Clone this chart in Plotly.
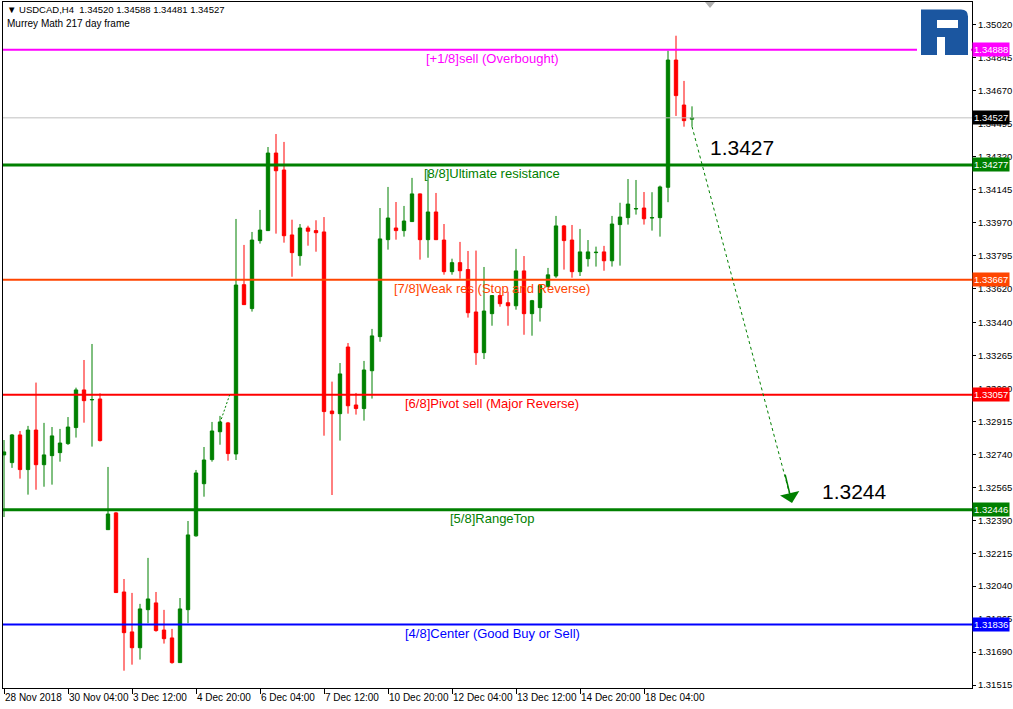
import plotly.graph_objects as go

# USDCAD H4 candles (bar index 0 = 28 Nov 2018 20:00)
opens = [
    1.32737, 1.32696, 1.32843, 1.32659, 1.32869, 1.32685, 1.32733, 1.32749, 1.32797, 1.32882,
    1.33082, 1.33029, 1.33034, 1.32340, 1.32429, 1.32009, 1.31797, 1.31713, 1.31915, 1.31951,
    1.31807, 1.31765, 1.31634, 1.31915, 1.32307, 1.32584, 1.32712, 1.32860, 1.32907, 1.32742,
    1.33641, 1.33514, 1.33875, 1.33928, 1.34340, 1.34250, 1.33905, 1.33795, 1.33942, 1.33928,
    1.33921, 1.32970, 1.32956, 1.33310, 1.33002, 1.32983, 1.33184, 1.33365, 1.33880, 1.33942,
    1.33928, 1.33976, 1.34123, 1.33880, 1.34027, 1.33878, 1.33710, 1.33758, 1.33721, 1.33496,
    1.33280, 1.33487, 1.33583, 1.33545, 1.33529, 1.33714, 1.33487, 1.33519, 1.33630, 1.33687,
    1.33953, 1.33878, 1.33710, 1.33779, 1.33811, 1.33815, 1.33768, 1.33960, 1.33997, 1.34043,
    1.34048, 1.33995, 1.33997, 1.34158, 1.34834, 1.34595, 1.34520,
]
highs = [
    1.32816, 1.32848, 1.32864, 1.32891, 1.33121, 1.32907, 1.32885, 1.32875, 1.32938, 1.33094,
    1.33241, 1.33326, 1.33064, 1.32673, 1.32434, 1.32078, 1.32004, 1.31946, 1.32190, 1.32009,
    1.31914, 1.31813, 1.31977, 1.32386, 1.32657, 1.32779, 1.32912, 1.32944, 1.32912, 1.33990,
    1.33852, 1.33921, 1.34038, 1.34372, 1.34441, 1.34399, 1.33986, 1.33963, 1.33954, 1.33983,
    1.34000, 1.33126, 1.33225, 1.33331, 1.33066, 1.33236, 1.33406, 1.34048, 1.34160, 1.34080,
    1.34059, 1.34208, 1.34125, 1.34250, 1.34128, 1.33963, 1.33779, 1.33868, 1.33820, 1.33822,
    1.33735, 1.33586, 1.33604, 1.33604, 1.33831, 1.33793, 1.33560, 1.33639, 1.33730, 1.34006,
    1.33958, 1.33958, 1.33937, 1.33878, 1.33843, 1.33847, 1.34006, 1.34076, 1.34202, 1.34197,
    1.34133, 1.34132, 1.34167, 1.34884, 1.34963, 1.34723, 1.34588,
]
lows = [
    1.32407, 1.32668, 1.32611, 1.32526, 1.32552, 1.32568, 1.32579, 1.32701, 1.32790, 1.32829,
    1.32908, 1.32781, 1.32808, 1.32338, 1.32004, 1.31591, 1.31623, 1.31650, 1.31843, 1.31798,
    1.31735, 1.31628, 1.31632, 1.31843, 1.32303, 1.32515, 1.32701, 1.32791, 1.32706, 1.32710,
    1.33533, 1.33498, 1.33859, 1.33926, 1.33912, 1.33864, 1.33683, 1.33742, 1.33848, 1.33816,
    1.32839, 1.32524, 1.32813, 1.32956, 1.32951, 1.32919, 1.33036, 1.33338, 1.33827, 1.33880,
    1.33896, 1.33974, 1.33774, 1.33784, 1.33878, 1.33694, 1.33694, 1.33673, 1.33466, 1.33215,
    1.33246, 1.33423, 1.33524, 1.33423, 1.33508, 1.33375, 1.33370, 1.33445, 1.33629, 1.33677,
    1.33721, 1.33678, 1.33687, 1.33737, 1.33737, 1.33715, 1.33737, 1.33742, 1.33960, 1.34013,
    1.33960, 1.33928, 1.33896, 1.34079, 1.34537, 1.34480, 1.34481,
]
closes = [
    1.32753, 1.32843, 1.32659, 1.32869, 1.32685, 1.32737, 1.32838, 1.32800, 1.32885, 1.33082,
    1.33025, 1.33031, 1.32813, 1.32423, 1.32006, 1.31793, 1.31713, 1.31919, 1.31972, 1.31804,
    1.31761, 1.31634, 1.31919, 1.32312, 1.32641, 1.32710, 1.32864, 1.32912, 1.32744, 1.33639,
    1.33535, 1.33878, 1.33931, 1.34340, 1.34246, 1.33901, 1.33811, 1.33942, 1.33925, 1.33917,
    1.32967, 1.32956, 1.33167, 1.32998, 1.32983, 1.33188, 1.33369, 1.33884, 1.33995, 1.33928,
    1.33979, 1.34123, 1.33880, 1.34027, 1.33880, 1.33710, 1.33758, 1.33715, 1.33492, 1.33280,
    1.33501, 1.33583, 1.33540, 1.33529, 1.33714, 1.33487, 1.33556, 1.33636, 1.33693, 1.33953,
    1.33875, 1.33710, 1.33815, 1.33815, 1.33813, 1.33768, 1.33963, 1.34000, 1.34069, 1.34045,
    1.33991, 1.33997, 1.34160, 1.34834, 1.34645, 1.34512, 1.34527,
]
bars = list(range(len(closes)))

time_ticks = [0, 8, 16, 24, 32, 40, 48, 56, 64, 72, 80]
time_labels = ["28 Nov 2018", "30 Nov 04:00", "3 Dec 12:00", "4 Dec 20:00", "6 Dec 04:00",
               "7 Dec 12:00", "10 Dec 20:00", "12 Dec 04:00", "13 Dec 12:00", "14 Dec 20:00",
               "18 Dec 04:00"]

price_ticks = [1.35020, 1.34845, 1.34670, 1.34495, 1.34320, 1.34145, 1.33970, 1.33795, 1.33620,
               1.33440, 1.33265, 1.33090, 1.32915, 1.32740, 1.32565, 1.32390, 1.32215, 1.32040,
               1.31865, 1.31690, 1.31515]

# Murrey Math levels
level_values = [1.34888, 1.34277, 1.33667, 1.33057, 1.32446, 1.31836]
level_names = ["[+1/8]sell (Overbought)", "[8/8]Ultimate resistance",
               "[7/8]Weak res (Stop and Reverse)", "[6/8]Pivot sell (Major Reverse)",
               "[5/8]RangeTop", "[4/8]Center (Good Buy or Sell)"]
level_colors = ["#FF00FF", "#008000", "#FF4500", "#FF0000", "#008000", "#0000FF"]
level_widths = [2, 3, 2, 2, 3, 2]

bid_price = 1.34527
target_from = 1.3427
target_to = 1.3244

FONT = "Liberation Sans"
GREEN = "#008000"
RED = "#FF0000"

# plot area in pixels (used only for the decorations outside data space)
L, T, R, B = 3, 2, 972, 688


def px(x):
    return (x - L) / (R - L)


def py(y):
    return (B - y) / (B - T)


fig = go.Figure()

fig.add_trace(go.Candlestick(
    x=bars, open=opens, high=highs, low=lows, close=closes,
    increasing=dict(line=dict(color=GREEN, width=1), fillcolor=GREEN),
    decreasing=dict(line=dict(color=RED, width=1), fillcolor=RED),
    whiskerwidth=0, hoverinfo="skip",
))

shapes = []
annotations = []

# bid line
shapes.append(dict(type="line", xref="paper", x0=0, x1=1, yref="y", y0=bid_price, y1=bid_price,
                   line=dict(color="#C0C0C0", width=1)))

for val, name, col, w in zip(level_values, level_names, level_colors, level_widths):
    shapes.append(dict(type="line", xref="paper", x0=0, x1=1, yref="y", y0=val, y1=val,
                       line=dict(color=col, width=w)))
    annotations.append(dict(x=61, y=val, xref="x", yref="y", text=name, showarrow=False,
                            xanchor="center", yanchor="top", yshift=1,
                            font=dict(family=FONT, size=13, color=col)))
    annotations.append(dict(x=1, y=val, xref="paper", yref="y", text=f"{val:.5f}",
                            showarrow=False, xanchor="left", yanchor="middle", xshift=0,
                            bgcolor=col, borderpad=1,
                            font=dict(family=FONT, size=9.5, color="white")))

annotations.append(dict(x=1, y=bid_price, xref="paper", yref="y", text=f"{bid_price:.5f}",
                        showarrow=False, xanchor="left", yanchor="middle", xshift=0,
                        bgcolor="black", borderpad=1,
                        font=dict(family=FONT, size=9.5, color="white")))

# forecast arrow
arrow_start = (86, lows[-1])
arrow_tip = (98.5, 1.32482)
shapes.append(dict(type="line", xref="x", yref="y", x0=arrow_start[0], y0=arrow_start[1],
                   x1=arrow_tip[0], y1=arrow_tip[1],
                   line=dict(color=GREEN, width=1, dash="3px,3px")))
annotations.append(dict(x=arrow_tip[0], y=arrow_tip[1], ax=97.6, ay=1.32640,
                        xref="x", yref="y", axref="x", ayref="y", text="",
                        showarrow=True, arrowhead=1, arrowsize=2.2, arrowwidth=1.5,
                        arrowcolor=GREEN))
# small old dotted trendline piece
shapes.append(dict(type="line", xref="x", yref="y", x0=27, y0=1.32907, x1=28.2, y1=1.33055,
                   line=dict(color=GREEN, width=1, dash="2px,2px")))

annotations.append(dict(x=88, y=1.34372, xref="x", yref="y", text=f"{target_from:.4f}",
                        showarrow=False, xanchor="left", yanchor="middle",
                        font=dict(family=FONT, size=21, color="black")))
annotations.append(dict(x=102, y=1.32540, xref="x", yref="y", text=f"{target_to:.4f}",
                        showarrow=False, xanchor="left", yanchor="middle",
                        font=dict(family=FONT, size=21, color="black")))

# header
annotations.append(dict(x=px(5), y=py(10), xref="paper", yref="paper",
                        text="\u25bc USDCAD,H4\u00a0\u00a01.34520 1.34588 1.34481 1.34527",
                        showarrow=False, xanchor="left", yanchor="middle",
                        font=dict(family=FONT, size=9.5, color="black")))
annotations.append(dict(x=px(5), y=py(24), xref="paper", yref="paper",
                        text="Murrey Math 217 day frame",
                        showarrow=False, xanchor="left", yanchor="middle",
                        font=dict(family=FONT, size=10, color="black")))

# chart shift marker
shapes.append(dict(type="path", xref="paper", yref="paper",
                   path=f"M {px(705)} {py(2)} L {px(715)} {py(2)} L {px(710)} {py(8)} Z",
                   fillcolor="#B0B0B0", line=dict(width=0)))

# logo
shapes.append(dict(type="rect", xref="paper", yref="paper", x0=px(917), x1=px(971),
                   y0=py(3), y1=py(58), fillcolor="white", line=dict(width=0)))
logo = (f"M {px(921)} {py(9.5)} L {px(961)} {py(9.5)} Q {px(968)} {py(9.5)} {px(968)} {py(16.5)} "
        f"L {px(968)} {py(55)} L {px(945)} {py(55)} L {px(945)} {py(37)} L {px(937)} {py(37)} "
        f"L {px(937)} {py(55)} L {px(921)} {py(55)} Z "
        f"M {px(937)} {py(20)} L {px(958)} {py(20)} L {px(958)} {py(28)} L {px(937)} {py(28)} Z")
shapes.append(dict(type="path", xref="paper", yref="paper", path=logo, fillrule="evenodd",
                   fillcolor="#1B56A0", line=dict(width=0)))

fig.update_layout(
    width=1013, height=709,
    margin=dict(l=L, r=1013 - R, t=T, b=709 - B, pad=0, autoexpand=False),
    paper_bgcolor="white", plot_bgcolor="white",
    showlegend=False, hovermode=False,
    boxgap=0.4,
    shapes=shapes, annotations=annotations,
    font=dict(family=FONT, size=10, color="black"),
    xaxis=dict(range=[-0.125, 121], tickvals=time_ticks, ticktext=time_labels,
               ticks="outside", ticklen=5, tickcolor="black", ticklabelposition="outside right",
               tickangle=0, automargin=False,
               showline=True, mirror=True, linecolor="black", linewidth=1,
               showgrid=False, zeroline=False, rangeslider=dict(visible=False),
               tickfont=dict(family=FONT, size=10, color="black")),
    yaxis=dict(range=[1.314991, 1.351421], side="right", tickvals=price_ticks,
               ticktext=[f"{v:.5f}" for v in price_ticks], automargin=False,
               ticks="outside", ticklen=3, tickcolor="black",
               showline=True, mirror=True, linecolor="black", linewidth=1,
               showgrid=False, zeroline=False,
               tickfont=dict(family=FONT, size=9.5, color="black")),
)

fig.write_html("out.html", config={"displayModeBar": False},
               post_script="document.body.style.margin='0';document.body.style.overflow='hidden';")
